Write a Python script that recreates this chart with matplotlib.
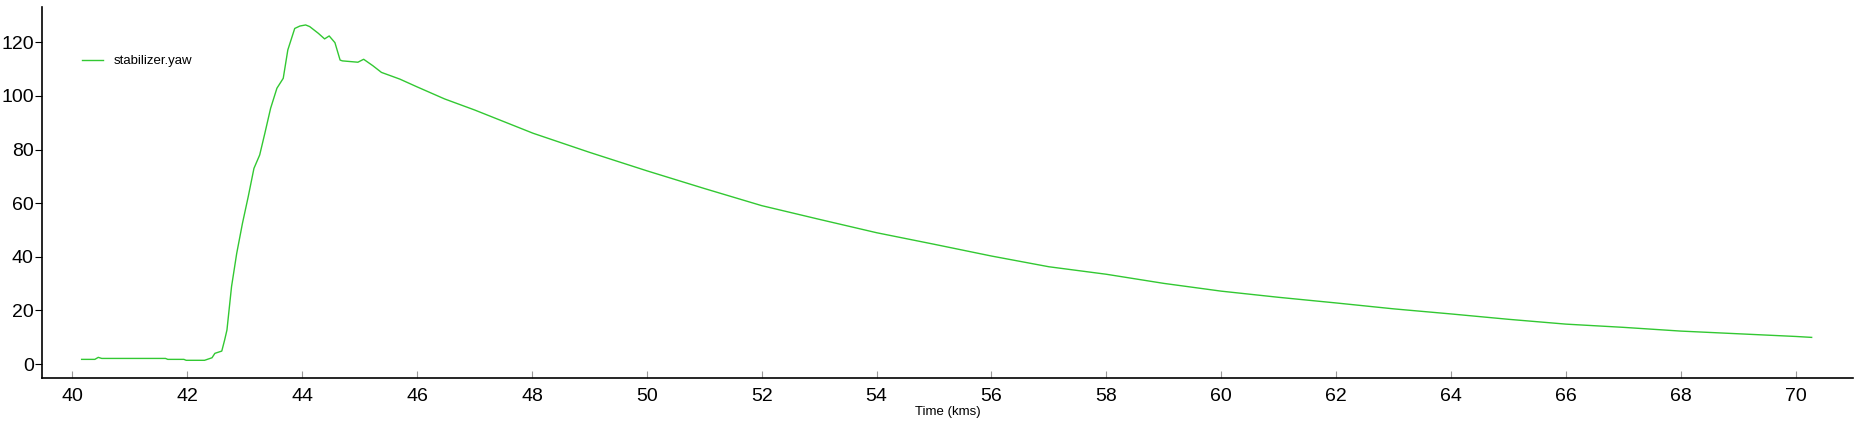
import matplotlib
matplotlib.use("Agg")
import matplotlib.pyplot as plt

# stabilizer.yaw sampled off the reference trace
time_kms = [40.16, 40.39, 40.45, 40.51, 41.62, 41.66, 41.94, 41.98, 42.30, 42.43,
            42.48, 42.60, 42.65, 42.69, 42.77, 42.86, 42.96, 43.06, 43.16, 43.26,
            43.35, 43.45, 43.56, 43.67, 43.75, 43.87, 43.96, 44.06, 44.13, 44.28,
            44.39, 44.47, 44.57, 44.66, 44.70, 44.97, 45.07, 45.23, 45.38, 45.70,
            45.99, 46.48, 47.0, 48.02, 49.0, 50.0, 51.0, 52.0, 53.0, 54.0,
            55.0, 56.0, 57.0, 58.0, 59.0, 60.0, 61.0, 62.0, 63.0, 64.0,
            65.0, 66.0, 67.0, 68.0, 69.0, 70.0, 70.28]
yaw = [1.75, 1.75, 2.5, 2.1, 2.1, 1.75, 1.75, 1.4, 1.4, 2.35,
       4.0, 4.85, 9.0, 12.7, 28.9, 41.3, 52.5, 62.4, 73.0, 78.0,
       86.1, 95.4, 102.9, 106.6, 117.2, 125.2, 126.1, 126.5, 125.9, 123.4,
       121.3, 122.4, 119.9, 113.4, 113.1, 112.6, 113.7, 111.3, 108.8, 106.3,
       103.5, 98.9, 94.8, 86.1, 79.0, 72.1, 65.5, 59.1, 54.0, 49.0,
       44.7, 40.3, 36.3, 33.5, 30.1, 27.2, 24.9, 22.8, 20.6, 18.7,
       16.7, 14.9, 13.7, 12.3, 11.3, 10.3, 9.95]

x_ticks = list(range(40, 71, 2))
y_ticks = list(range(0, 121, 20))

plt.rcParams['font.family'] = ['Liberation Sans', 'DejaVu Sans']

fig = plt.figure(figsize=(18.58, 4.25), dpi=100)
ax = fig.add_axes([42 / 1858, 1 - 378 / 425, (1853 - 42) / 1858, (378 - 7) / 425])

ax.plot(time_kms, yaw, color='#32c832', lw=1.0, label='stabilizer.yaw')

ax.set_xlim(39.47, 71.0)
ax.set_ylim(-5.2, 133.2)
ax.set_xticks(x_ticks)
ax.set_yticks(y_ticks)

for side in ('top', 'right'):
    ax.spines[side].set_visible(False)
for side in ('left', 'bottom'):
    ax.spines[side].set_linewidth(1.2)
    ax.spines[side].set_color('black')

ax.tick_params(axis='x', direction='in', length=5, color='#999999', labelsize=14, pad=7)
ax.tick_params(axis='y', direction='out', length=5, color='black', labelsize=14, pad=1)

ax.set_xlabel('Time (kms)', fontsize=9.5, labelpad=1)

ax.legend(loc='upper left', bbox_to_anchor=(82 / 1858, 1 - 55 / 425),
          bbox_transform=fig.transFigure, frameon=False, fontsize=9.5,
          handlelength=1.6, handletextpad=0.8, borderpad=0, borderaxespad=0)

fig.savefig('out.png', dpi=100)
